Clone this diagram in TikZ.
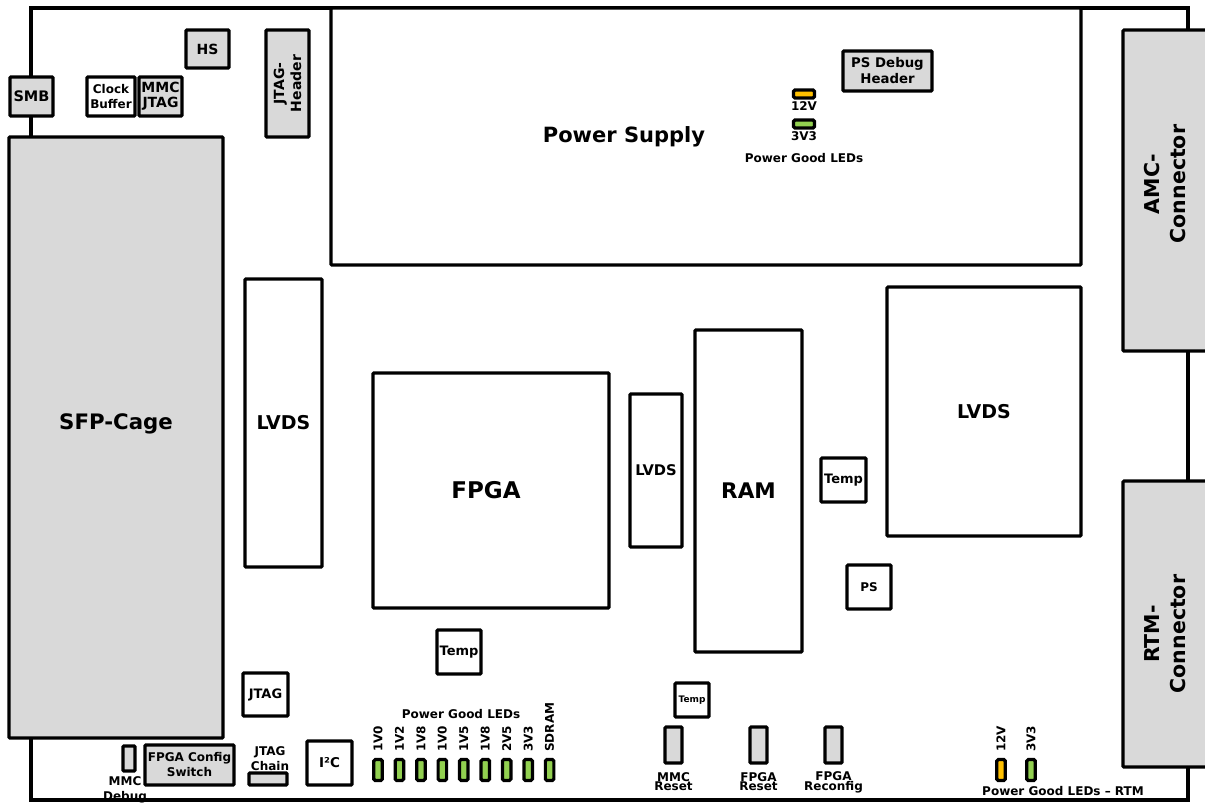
\documentclass[tikz,border=0pt]{standalone}
\usepackage{fontspec}
\setmainfont{DejaVu Sans}
\usetikzlibrary{positioning}
\definecolor{partgray}{HTML}{D9D9D9}
\definecolor{ledgreen}{HTML}{92D050}
\definecolor{ledorange}{HTML}{FFC000}
\newcommand{\fsize}[2]{\fontsize{#1}{#2}\selectfont\bfseries}
\begin{document}
\begin{tikzpicture}[
  x=1pt, y=-1pt,
  part/.style={draw, line width=3.2pt, rounded corners=1pt, inner sep=0pt, align=center, fill=white},
  header/.style={part, fill=partgray},
  size/.style 2 args={minimum width=#1pt, minimum height=#2pt},
  led/.style={draw, line width=3.2pt, rounded corners=1.5pt, inner sep=0pt, fill=ledgreen},
  caption/.style={inner sep=0pt, align=center, font=\fsize{12}{15}}
]
  \useasboundingbox (0,0) rectangle (1205,803);
  \fill[white] (0,0) rectangle (1205,803);

  % Caption cut by the outline
  \node[caption] (mmcdebugtext) at (125,789.5) {MMC\\Debug};

  % Board
  \node[draw, line width=3.2pt, size={1157}{792}] (board) at (609.5,404) {};

  % Top left
  \node[header, size={43}{39}, font=\fsize{14.5}{16}] (smb) at (31.5,96.5) {SMB};
  \node[part, size={48}{39}, font=\fsize{12}{15}] (clockbuffer) at (111,96.5) {Clock\\Buffer};
  \node[header, size={43}{39}, font=\fsize{14}{15}] (mmcjtag) at (160.5,96.5) {MMC\\JTAG};
  \node[header, size={43}{38}, font=\fsize{14}{16}] (hs) at (207.5,49) {HS};
  \node[header, size={107}{43}, rotate=90, font=\fsize{14}{17}] (jtagheader) at (287.5,83.5) {JTAG-\\Header};
  \node[header, size={214}{601}] (sfp) at (116,437.5) {};
  \node[font=\fsize{21.3}{24}, inner sep=0pt] (sfptext) at (116,424) {SFP-Cage};

  % Power supply
  \node[part, size={750}{257}] (supply) at (706,136.5) {};
  \node[font=\fsize{21}{24}, inner sep=0pt] (supplytext) at (624,136.5) {Power Supply};
  \node[header, size={89}{40}, font=\fsize{13.3}{16}] (psdebug) at (887.5,71) {PS Debug\\Header};
  \node[led, fill=ledorange, size={21}{8}] (led12) at (804,94) {};
  \node[caption] (led12text) at (804,106) {12V};
  \node[led, size={21}{8}] (led33) at (804,124) {};
  \node[caption] (led33text) at (804,136) {3V3};
  \node[caption] (goodtop) at (804,158) {Power Good LEDs};

  % Connectors
  \node[header, size={90}{321}] (amc) at (1168,190.5) {};
  \node[header, size={90}{286}] (rtm) at (1168,624) {};
  \node[rotate=90, font=\fsize{20.5}{26}, align=center, inner sep=0pt] (amctext) at (1165,184) {AMC-\\Connector};
  \node[rotate=90, font=\fsize{20.5}{26}, align=center, inner sep=0pt] (rtmtext) at (1165,634) {RTM-\\Connector};

  % Main parts
  \node[part, size={77}{288}, font=\fsize{19}{22}] (lvdsleft) at (283.5,423) {LVDS};
  \node[part, size={236}{235}] (fpga) at (491,490.5) {};
  \node[font=\fsize{23}{26}, inner sep=0pt] (fpgatext) at (486,490) {FPGA};
  \node[part, size={52}{153}, font=\fsize{14.7}{16}] (lvdsmid) at (656,470.5) {LVDS};
  \node[part, size={107}{322}, font=\fsize{21.5}{24}] (ram) at (748.5,491) {RAM};
  \node[part, size={194}{249}, font=\fsize{19}{22}] (lvdsright) at (984,411.5) {LVDS};
  \node[part, size={45}{44}, font=\fsize{13}{15}] (tempright) at (843.5,480) {Temp};
  \node[part, size={44}{44}, font=\fsize{12}{15}] (ps) at (869,587) {PS};
  \node[part, size={44}{44}, font=\fsize{13}{15}] (tempfpga) at (459,652) {Temp};
  \node[part, size={34}{34}, font=\fsize{9}{11}] (tempsmall) at (692,700) {Temp};
  \node[part, size={45}{43}, font=\fsize{13}{15}] (jtag) at (265.5,694.5) {JTAG};

  % Bottom left
  \node[header, size={12}{25}] (mmcdebug) at (129,758.5) {};
  \node[header, size={89}{40}, font=\fsize{12}{15}] (config) at (189.5,765) {FPGA Config\\Switch};
  \node[header, size={38}{12}] (chain) at (268,779) {};
  \node[caption] (chaintext) at (270,758.5) {JTAG\\Chain};
  \node[part, size={45}{44}, font=\fsize{13.5}{15}] (i2c) at (329.5,763) {I²C};

  % Power good LEDs
  \node[caption] (goodbottom) at (461,714) {Power Good LEDs};
  \foreach \i/\name in {0/1V0, 1/1V2, 2/1V8, 3/1V0, 4/1V5, 5/1V8, 6/2V5, 7/3V3, 8/SDRAM} {
    \node[led, size={8.5}{21}] (good\i) at (378+\i*21.45,770) {};
    \node[caption, rotate=90, anchor=west] (goodtext\i) at (378+\i*21.45,752) {\name};
  }

  % Buttons
  \foreach \i/\x/\name in {1/673.5/MMC\\Reset, 2/758.5/FPGA\\Reset, 3/833.5/FPGA\\Reconfig} {
    \node[header, size={17}{36}] (button\i) at (\x,745) {};
    \node[caption, font=\fsize{12}{9}] (buttontext\i) at (\x,782) {\name};
  }

  % RTM LEDs
  \node[led, fill=ledorange, size={8.5}{21}] (rtm12) at (1001,770) {};
  \node[led, size={8.5}{21}] (rtm33) at (1031,770) {};
  \node[caption, rotate=90, anchor=west] (rtm12text) at (1001,752) {12V};
  \node[caption, rotate=90, anchor=west] (rtm33text) at (1031,752) {3V3};
  \node[caption] (goodrtm) at (1063,791) {Power Good LEDs – RTM};
\end{tikzpicture}
\end{document}
